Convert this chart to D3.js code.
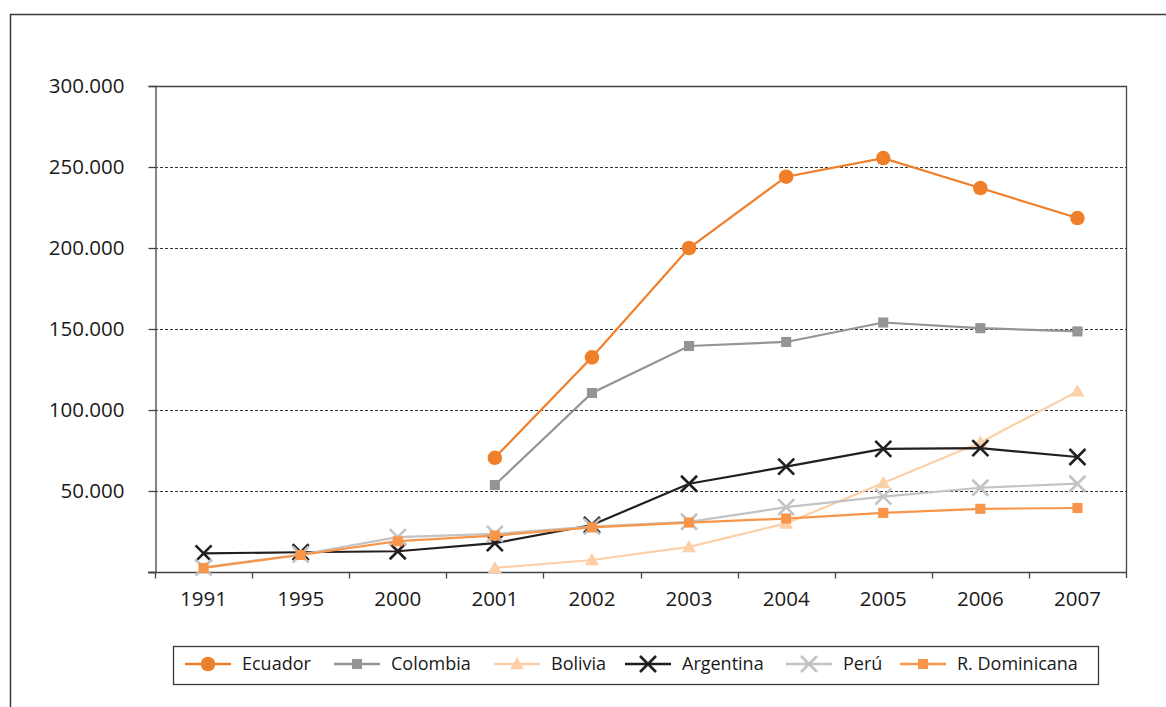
<!DOCTYPE html>
<html>
<head>
<meta charset="utf-8">
<script src="https://cdn.jsdelivr.net/npm/d3@7"></script>
<style>
  body { margin: 0; background: #fff; }
  svg { font-family: "Open Sans", sans-serif; }
  .tick text { fill: #1a1a1a; }
</style>
</head>
<body>
<svg id="chart" width="1166" height="707"></svg>
<script>
// data
const years = ['1991', '1995', '2000', '2001', '2002', '2003', '2004', '2005', '2006', '2007'];
const yTicks = [0, 50000, 100000, 150000, 200000, 250000, 300000];

const ecuador   = [null, null, null, 70500, 132500, 200000, 244000, 255500, 237000, 218500];
const colombia  = [null, null, null, 53700, 110500, 139500, 142000, 154000, 150500, 148500];
const bolivia   = [null, null, null, 2500, 7400, 15500, 30000, 55000, 80000, 111500];
const argentina = [11500, 12200, 12800, 17800, 29000, 54500, 65000, 76000, 76500, 71000];
const peru      = [2800, 10800, 21500, 23500, 28000, 31000, 40000, 46500, 52000, 54500];
const rdominicana = [2500, 10500, 19000, 22500, 27500, 30500, 33000, 36500, 39000, 39500];

const series = [
  { name: 'Ecuador', values: ecuador, color: '#f07f2a', marker: 'circle' },
  { name: 'Colombia', values: colombia, color: '#949494', marker: 'square' },
  { name: 'Bolivia', values: bolivia, color: '#fdcfa6', marker: 'triangle' },
  { name: 'Argentina', values: argentina, color: '#231f20', marker: 'cross' },
  { name: 'Perú', values: peru, color: '#c3c3c5', marker: 'cross' },
  { name: 'R. Dominicana', values: rdominicana, color: '#f7964a', marker: 'square' }
];

const svg = d3.select('#chart');

// outer frame (only top and left visible)
svg.append('path')
  .attr('d', 'M10.5,707 L10.5,14.5 L1166,14.5')
  .attr('fill', 'none')
  .attr('stroke', '#3a3a3a')
  .attr('stroke-width', 1.5);

const pLeft = 155, pRight = 1126, pTop = 86, pBottom = 572;

const x = d3.scaleBand().domain(years).range([pLeft, pRight]);
const y = d3.scaleLinear().domain([0, 300000]).range([pBottom, pTop]);

// dashed gridlines
svg.append('g')
  .selectAll('line')
  .data(yTicks.filter(d => d > 0 && d < 300000))
  .enter()
  .append('line')
  .attr('x1', pLeft).attr('x2', pRight)
  .attr('y1', d => Math.round(y(d)) + 0.5).attr('y2', d => Math.round(y(d)) + 0.5)
  .attr('stroke', '#333')
  .attr('stroke-dasharray', '3,2');

// plot box (top and right)
svg.append('path')
  .attr('d', `M${pLeft},${pTop + 0.5} L${pRight + 0.5},${pTop + 0.5} L${pRight + 0.5},${pBottom + 6}`)
  .attr('fill', 'none')
  .attr('stroke', '#444')
  .attr('stroke-width', 1.3);

// y axis
const yAxis = svg.append('g')
  .attr('transform', `translate(${pLeft + 0.5},0)`)
  .call(d3.axisLeft(y)
    .tickValues(yTicks)
    .tickSize(7)
    .tickPadding(24)
    .tickFormat(d => d === 0 ? '' : d3.format(',')(d).replace(/,/g, '.')));
yAxis.select('.domain').attr('stroke', '#444').attr('stroke-width', 1.3);
yAxis.selectAll('.tick line').attr('stroke', '#444').attr('stroke-width', 1.3);
yAxis.selectAll('.tick text').attr('font-size', 20.5).attr('font-family', '"Open Sans", sans-serif');

// x axis, ticks at band boundaries
const xAxis = svg.append('g')
  .attr('transform', `translate(0,${pBottom + 0.5})`)
  .call(d3.axisBottom(x).tickSize(0).tickPadding(19));
xAxis.select('.domain').remove();
xAxis.selectAll('.tick text').attr('font-size', 20.5).attr('font-family', '"Open Sans", sans-serif');
xAxis.append('line')
  .attr('x1', pLeft - 7).attr('x2', pRight)
  .attr('stroke', '#444').attr('stroke-width', 1.3);
xAxis.selectAll('.bound')
  .data(years)
  .enter()
  .append('line')
  .attr('class', 'bound')
  .attr('x1', d => Math.round(x(d)) + 0.5).attr('x2', d => Math.round(x(d)) + 0.5)
  .attr('y1', 0).attr('y2', 6)
  .attr('stroke', '#444').attr('stroke-width', 1.3);

function drawMarker(g, type, color, size) {
  if (type === 'circle') {
    g.append('circle').attr('r', size * 0.28).attr('fill', color);
  } else if (type === 'square') {
    g.append('rect')
      .attr('x', -size * 0.36).attr('y', -size * 0.36)
      .attr('width', size * 0.72).attr('height', size * 0.72)
      .attr('fill', color);
  } else if (type === 'triangle') {
    const s = size * 0.5;
    g.append('path')
      .attr('d', `M0,${-s} L${s},${s * 0.75} L${-s},${s * 0.75}Z`)
      .attr('fill', color);
  } else if (type === 'cross') {
    const s = size * 0.5;
    g.append('path')
      .attr('d', `M${-s},${-s} L${s},${s} M${-s},${s} L${s},${-s}`)
      .attr('stroke', color)
      .attr('stroke-width', 2.6)
      .attr('fill', 'none');
  }
}

const line = d3.line()
  .defined(d => d.v !== null)
  .x(d => x(d.year) + x.bandwidth() / 2)
  .y(d => y(d.v));

series.forEach(s => {
  const pts = years.map((yr, i) => ({ year: yr, v: s.values[i] }));
  const g = svg.append('g');
  g.append('path')
    .datum(pts)
    .attr('d', line)
    .attr('fill', 'none')
    .attr('stroke', s.color)
    .attr('stroke-width', 2.2);
  pts.filter(p => p.v !== null).forEach(p => {
    const m = g.append('g')
      .attr('transform', `translate(${x(p.year) + x.bandwidth() / 2},${y(p.v)})`);
    drawMarker(m, s.marker, s.color, s.marker === 'circle' ? 26 : (s.marker === 'cross' ? 16 : 14));
  });
});

// legend
const legend = svg.append('g');
legend.append('rect')
  .attr('x', 173.5).attr('y', 646.5)
  .attr('width', 925).attr('height', 38)
  .attr('fill', '#fff')
  .attr('stroke', '#3a3a3a')
  .attr('stroke-width', 1.3);

const legendX = [185, 334, 494, 625, 786, 900];
series.forEach((s, i) => {
  const lg = legend.append('g').attr('transform', `translate(${legendX[i]},664)`);
  lg.append('line')
    .attr('x1', 0).attr('x2', 46)
    .attr('stroke', s.color).attr('stroke-width', 2.5);
  const m = lg.append('g').attr('transform', 'translate(23,0)');
  drawMarker(m, s.marker, s.color, s.marker === 'circle' ? 26 : (s.marker === 'cross' ? 16 : 14));
  lg.append('text')
    .attr('x', 57).attr('y', 0)
    .attr('dy', '0.35em')
    .attr('font-size', 18)
    .attr('fill', '#1a1a1a')
    .text(s.name);
});
</script>
</body>
</html>
